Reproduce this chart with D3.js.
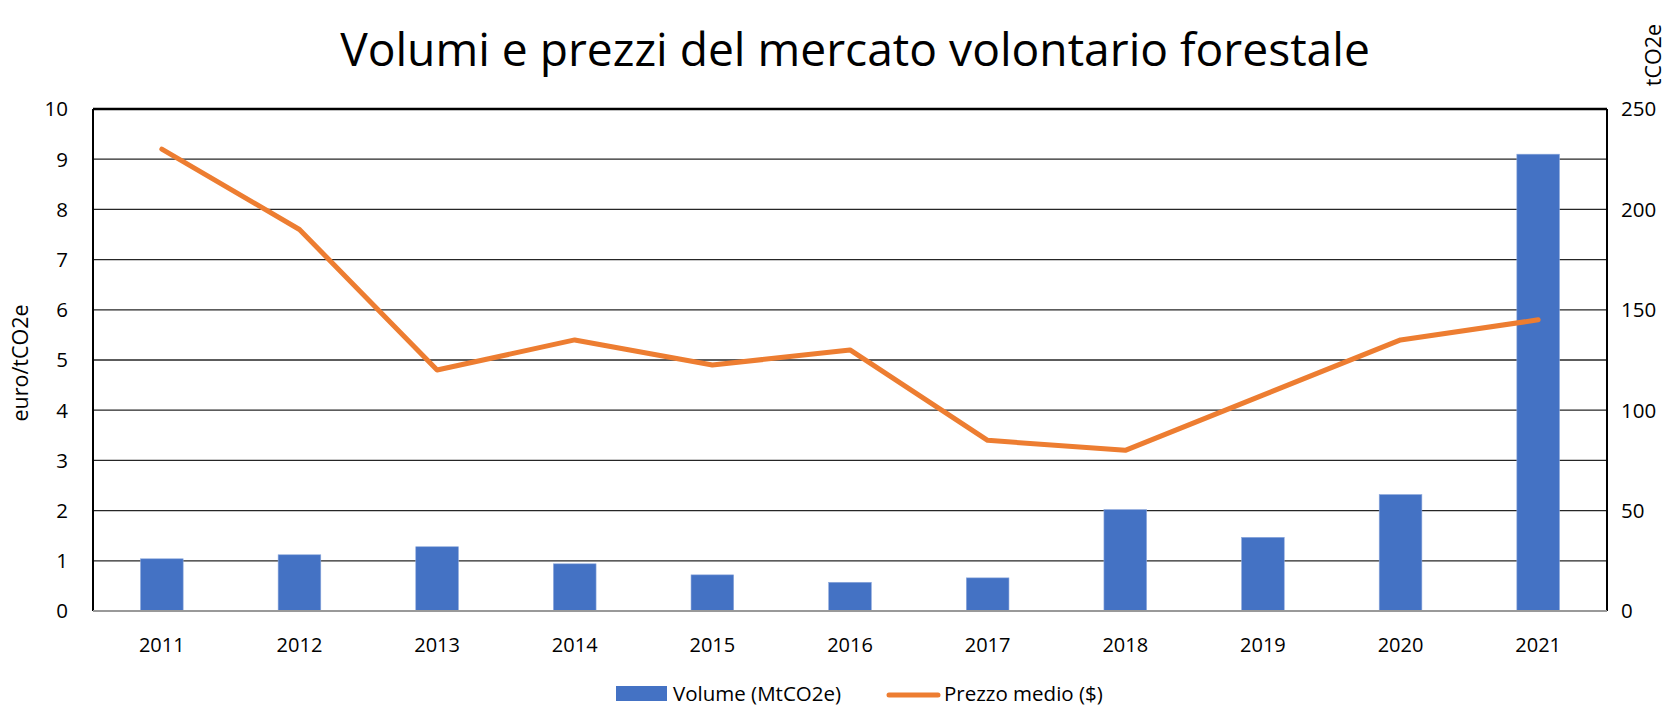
<!DOCTYPE html>
<html><head><meta charset="utf-8">
<script src="https://cdn.jsdelivr.net/npm/d3@7"></script>
<style>
body{margin:0;background:#fff;}
text{font-family:"Open Sans","Noto Sans",sans-serif;fill:#000;}
</style></head>
<body><svg id="c" width="1674" height="707"></svg>
<script>
const years = ["2011","2012","2013","2014","2015","2016","2017","2018","2019","2020","2021"];
const volume = [26, 28, 32, 23.5, 18, 14.3, 16.5, 50.5, 36.7, 58, 227.5];
const price = [9.2, 7.6, 4.8, 5.4, 4.9, 5.2, 3.4, 3.2, 4.3, 5.4, 5.8];
const leftTicks = [0,1,2,3,4,5,6,7,8,9,10];
const rightTicks = [0,50,100,150,200,250];
const title = "Volumi e prezzi del mercato volontario forestale";
const leftLabel = "euro/tCO2e";
const rightLabel = "tCO2e";
const legendLabels = ["Volume (MtCO2e)", "Prezzo medio ($)"];

const svg = d3.select("#c");
const m = {l:93, r:1607, t:109, b:611};
const x = d3.scaleBand().domain(years).range([m.l, m.r]).paddingInner(0.69).paddingOuter(0.345);
const yL = d3.scaleLinear().domain([0,10]).range([m.b, m.t]);
const yR = d3.scaleLinear().domain([0,250]).range([m.b, m.t]);

// gridlines
svg.append("g").selectAll("line").data(leftTicks.filter(d=>d>0 && d<10)).join("line")
  .attr("x1", m.l).attr("x2", m.r).attr("y1", d=>yL(d)).attr("y2", d=>yL(d))
  .attr("stroke", "#262626").attr("stroke-width", 1.3);

// bars
svg.append("g").selectAll("rect").data(years).join("rect")
  .attr("x", d=>x(d)).attr("width", x.bandwidth())
  .attr("y", (d,i)=>yR(volume[i])).attr("height", (d,i)=>m.b - yR(volume[i]))
  .attr("fill", "#4472C4").attr("stroke", "#8faadc").attr("stroke-width", 0.6);

// frame
svg.append("line").attr("x1", m.l).attr("x2", m.r).attr("y1", m.t).attr("y2", m.t).attr("stroke","#000").attr("stroke-width",2.5);
svg.append("line").attr("x1", m.l).attr("x2", m.l).attr("y1", m.t).attr("y2", m.b).attr("stroke","#000").attr("stroke-width",2);
svg.append("line").attr("x1", m.r).attr("x2", m.r).attr("y1", m.t).attr("y2", m.b).attr("stroke","#000").attr("stroke-width",2);
svg.append("line").attr("x1", m.l).attr("x2", m.r).attr("y1", m.b).attr("y2", m.b).attr("stroke","#999").attr("stroke-width",2);

// price line
const line = d3.line().x((d,i)=>x(years[i]) + x.bandwidth()/2).y(d=>yL(d));
svg.append("path").datum(price).attr("d", line).attr("fill","none")
  .attr("stroke","#ED7D31").attr("stroke-width",5).attr("stroke-linecap","round").attr("stroke-linejoin","round");

// left axis labels
svg.append("g").selectAll("text").data(leftTicks).join("text")
  .attr("x", 68).attr("y", d=>yL(d)).attr("dy","0.36em").attr("text-anchor","end")
  .attr("font-size", 20.5).text(d=>d);
// right axis labels
svg.append("g").selectAll("text").data(rightTicks).join("text")
  .attr("x", 1621).attr("y", d=>yR(d)).attr("dy","0.36em").attr("text-anchor","start")
  .attr("font-size", 20.5).text(d=>d);
// x labels
svg.append("g").selectAll("text").data(years).join("text")
  .attr("x", d=>x(d)+x.bandwidth()/2).attr("y", 652).attr("text-anchor","middle")
  .attr("font-size", 20).text(d=>d);

// axis titles
svg.append("text").attr("transform","translate(28,363) rotate(-90)").attr("text-anchor","middle")
  .attr("font-size", 21.5).text(leftLabel);
svg.append("text").attr("transform","translate(1661,55) rotate(-90)").attr("text-anchor","middle")
  .attr("font-size", 21.5).text(rightLabel);

// title
const t = svg.append("text").attr("x", 855).attr("y", 66).attr("text-anchor","middle")
  .attr("font-size", 48).text(title);
const w = t.node().getComputedTextLength();
t.attr("font-size", 48*1030/w);

// legend
svg.append("rect").attr("x",616).attr("y",686).attr("width",51).attr("height",15).attr("fill","#4472C4");
svg.append("text").attr("x",673).attr("y",701).attr("font-size",20.5).text(legendLabels[0]);
svg.append("line").attr("x1",889).attr("x2",938).attr("y1",695).attr("y2",695)
  .attr("stroke","#ED7D31").attr("stroke-width",5).attr("stroke-linecap","round");
svg.append("text").attr("x",944).attr("y",701).attr("font-size",20.5).text(legendLabels[1]);
</script></body></html>
